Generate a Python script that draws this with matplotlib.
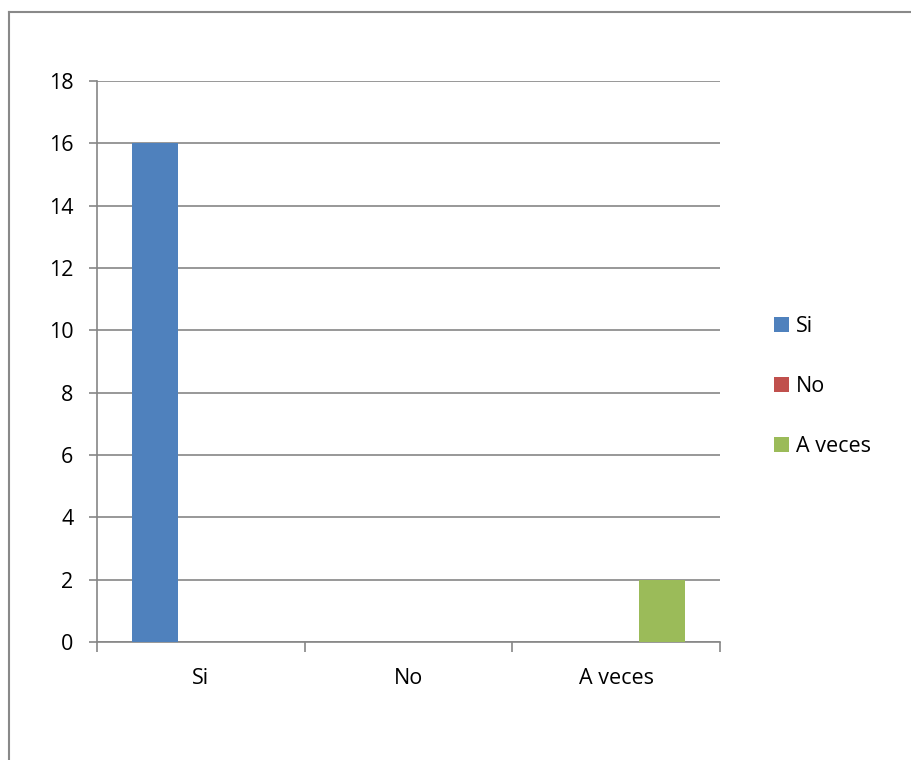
import numpy as np
import matplotlib.pyplot as plt
from matplotlib.lines import Line2D

categories = ['Si', 'No', 'A veces']
series_names = ['Si', 'No', 'A veces']
values = [16, 0, 2]   # one bar per category, series = category
colors = ['#4F81BD', '#C0504D', '#9BBB59']

plt.rcParams['font.family'] = ['Open Sans', 'DejaVu Sans']

fig = plt.figure(figsize=(9.12, 7.6), dpi=100)
ax = fig.add_axes([97/912, 1 - 642/760, (720 - 97)/912, (642 - 81)/760])

w = 1 / 4.5
x = np.arange(len(categories))
for s, name in enumerate(series_names):
    vals = [values[i] if i == s else 0 for i in range(len(categories))]
    ax.bar(x + (s - 1) * w, vals, width=w, color=colors[s], label=name, zorder=3)

ax.set_xlim(-0.5, 2.5)
ax.set_ylim(0, 18)
ax.set_yticks(range(0, 19, 2))
ax.yaxis.grid(True, color='#868686', linewidth=1.2, zorder=0)
ax.set_axisbelow(True)

ax.set_xticks(x)
ax.set_xticklabels(categories)
ax.set_xticks([-0.5, 0.5, 1.5, 2.5], minor=True)
ax.tick_params(axis='x', which='major', length=0, pad=19, labelsize=15.5)
ax.tick_params(axis='x', which='minor', length=7, width=1.2, color='#868686')
ax.tick_params(axis='y', length=6, width=1.2, color='#868686', pad=11, labelsize=15.5)

for side in ['top', 'right']:
    ax.spines[side].set_visible(False)
for side in ['left', 'bottom']:
    ax.spines[side].set_color('#868686')
    ax.spines[side].set_linewidth(1.2)

ax.legend(loc='center left', bbox_to_anchor=(1.07, 0.455), frameon=False,
          fontsize=15.5, handlelength=0.7, handleheight=0.7, handletextpad=0.3,
          labelspacing=1.8, borderpad=0)

# chart border (left and top edges visible)
fig.add_artist(Line2D([9/912, 9/912], [0, 1 - 12/760], transform=fig.transFigure,
                      color='#898989', linewidth=1.5))
fig.add_artist(Line2D([9/912, 1], [1 - 12/760, 1 - 12/760], transform=fig.transFigure,
                      color='#898989', linewidth=1.5))

fig.savefig('out.png', dpi=100)
